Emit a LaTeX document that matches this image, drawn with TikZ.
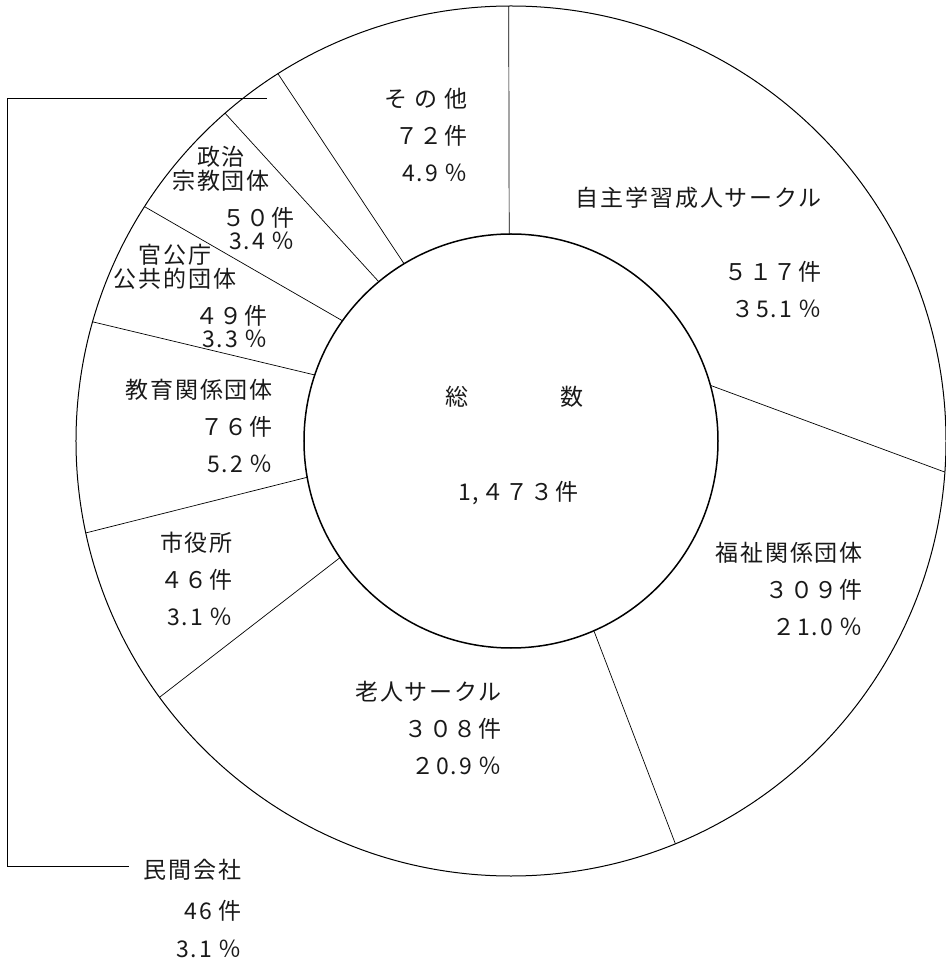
\documentclass[tikz,border=0pt]{standalone}
\usepackage{fontspec}
\newfontfamily\jfont[LetterSpace=8]{Noto Sans CJK JP}

\begin{document}
\begin{tikzpicture}[
		x=1pt, y=1pt,
		every node/.style = {font=\jfont\fontsize{23}{37}\selectfont, text=black!90, inner sep=0pt},
		tally/.style = {align=right, anchor=east},
		pair/.style = {align=center, font=\jfont\fontsize{23}{24}\selectfont},
		tight/.style = {align=right, anchor=east, font=\jfont\fontsize{23}{23}\selectfont},
		seam/.style = {line width=0.7pt},
		rim/.style = {line width=1pt}]
		\useasboundingbox (-511,-522) rectangle (434,441);
		\draw[rim] (0,0) circle (435);
		\draw[line width=1.5pt] (0,0) circle (207);
		\draw[seam] (90.5:207) -- (90.3:435);
		\draw[seam] (15.6:207) -- (-4.1:435);
		\draw[seam] (-66.4:207) -- (-67.8:435);
		\draw[seam] (214.3:207) -- (216.1:435);
		\draw[seam] (190.1:207) -- (192.2:435);
		\draw[seam] (161.4:207) -- (164.1:435);
		\draw[seam] (144.5:207) -- (147.4:435);
		\draw[seam] (129.7:207) -- (131.1:435);
		\draw[seam] (121.1:207) -- (122.4:435);
		\node (so) at (-54,44) {総};
		\node (su) at (61,44) {数};
		\node (total) at (7.5,-52) {1,４７３件};
		\node[tally] (jishu) at (311,189) {自主学習成人サークル\\[37pt]５１７件\\３5.1 ％};
		\node[tally] (fukushi) at (352,-147.5) {福祉関係団体\\３０９件\\２1.0 ％};
		\node[tally] (rojin) at (-9,-287) {老人サークル\\３０８件\\２0.9 ％};
		\node[tally] (shiyakusho) at (-278,-138) {市役所\\４６件\\3.1 ％};
		\node[tally] (kyoiku) at (-238,15) {教育関係団体\\７６件\\5.2 ％};
		\node[pair] (kancho) at (-336,174.5) {官公庁\\公共的団体};
		\node[tight] (kanchonum) at (-243,114.5) {４９件\\3.3 ％};
		\node[pair] (seiji) at (-290,272.5) {政治\\宗教団体};
		\node[tight] (seijinum) at (-216,212.5) {５０件\\3.4 ％};
		\node[tally] (sonota) at (-43,306) {そ\hspace{7pt}の\hspace{7pt}他\\７２件\\4.9 ％};
		\node (minkan) at (-318.5,-429) {民間会社};
		\node[tally, font=\jfont\fontsize{23}{38}\selectfont] (minkannum) at (-269,-488) {46 件\\3.1 ％};
		\coordinate (pin) at (125.5:421);
		\coordinate (rail) at (-504,0);
		\draw[seam] (pin) -- (pin -| rail) |- ([xshift=-15pt,yshift=4pt]minkan.west);
	\end{tikzpicture}
\end{document}
